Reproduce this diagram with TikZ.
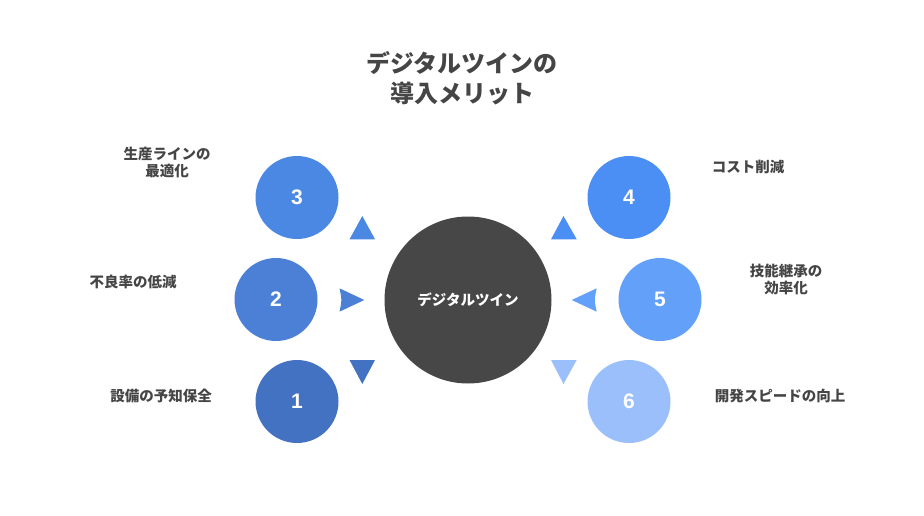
\documentclass[tikz,border=0pt]{standalone}
\usepackage{fontspec}
\setmainfont{Noto Sans CJK JP}
\newfontfamily\numfont{Liberation Sans}
\definecolor{txt}{HTML}{454545}
\definecolor{cdark}{HTML}{474747}
\definecolor{cA}{HTML}{4472C2}
\definecolor{cB}{HTML}{4B80D6}
\definecolor{cC}{HTML}{4A88E4}
\definecolor{cD}{HTML}{4B8EF4}
\definecolor{cE}{HTML}{62A0F9}
\definecolor{cF}{HTML}{9ABFFA}
\begin{document}
\begin{tikzpicture}[x=1pt,y=-1pt,
  numcirc/.style={circle,minimum size=83pt,inner sep=0pt,text=white,font=\numfont\bfseries\fontsize{21}{21}\selectfont},
  lbl/.style={text=txt,font=\bfseries\fontsize{14.5}{17.5}\selectfont,align=center,inner sep=0pt},
  tri/.style={draw=none}]
\useasboundingbox (0,0) rectangle (924,516);
\node[text=txt,font=\bfseries\fontsize{24}{30}\selectfont,align=center,inner sep=0pt] (title) at (462,78) {デジタルツインの\\導入メリット};
\node[circle,fill=cdark,minimum size=167pt,inner sep=0pt,text=white,font=\bfseries\fontsize{14.5}{17}\selectfont] (hub) at (468,300) {デジタルツイン};
\node[numcirc,fill=cC] (n3) at (297,197.5) {3};
\node[numcirc,fill=cB] (n2) at (276,299.5) {2};
\node[numcirc,fill=cA] (n1) at (297,401.5) {1};
\node[numcirc,fill=cD] (n4) at (629,197.5) {4};
\node[numcirc,fill=cE] (n5) at (660,299.5) {5};
\node[numcirc,fill=cF] (n6) at (629,401.5) {6};
% triangles
\fill[cC] (362.3,216) -- (375,239.3) -- (349.5,239.3) -- cycle;
\fill[cB] (339.5,288.3) -- (364.3,300) -- (339.5,311.7) .. controls (342,300) .. (339.5,288.3) -- cycle;
\fill[cA] (349.5,360) -- (375,360) -- (362.3,384) -- cycle;
\fill[cD] (563.5,216) -- (576.7,239.3) -- (551,239.3) -- cycle;
\fill[cE] (596.7,288.3) -- (571.7,300) -- (596.7,311.7) .. controls (594.2,300) .. (596.7,288.3) -- cycle;
\fill[cF] (551,360) -- (576.7,360) -- (563.5,384) -- cycle;
% labels
\node[lbl] (l3) at (167,162.5) {生産ラインの\\最適化};
\node[lbl] (l2) at (133,281.7) {不良率の低減};
\node[lbl] (l1) at (161,396) {設備の予知保全};
\node[lbl] (l4) at (748,167.3) {コスト削減};
\node[lbl] (l5) at (786,279.5) {技能継承の\\効率化};
\node[lbl] (l6) at (780,395.7) {開発スピードの向上};
\end{tikzpicture}
\end{document}
